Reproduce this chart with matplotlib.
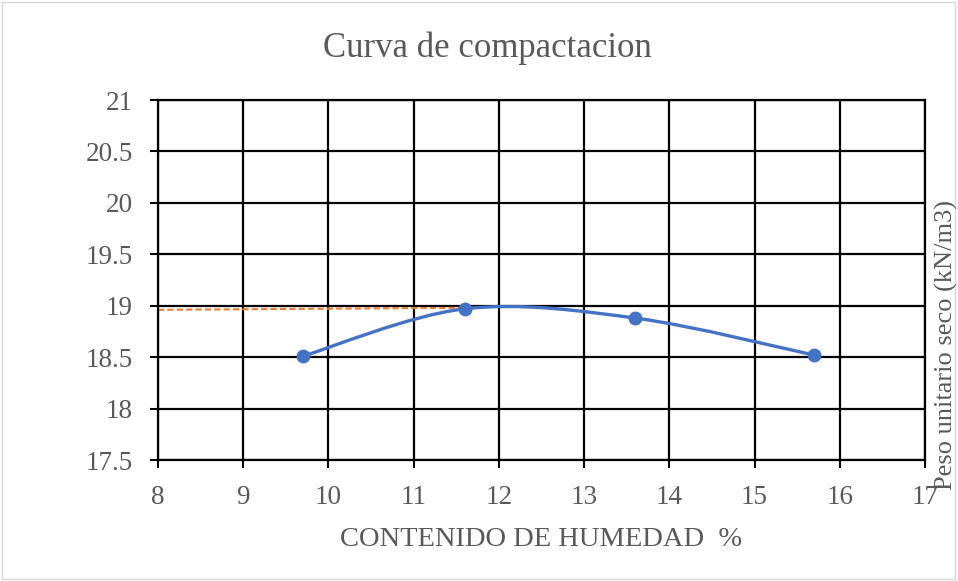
import numpy as np
import matplotlib.pyplot as plt
from matplotlib.path import Path
from matplotlib.patches import PathPatch, Rectangle

# Data
humedad = [9.7, 11.6, 13.6, 15.7]
peso_seco = [18.51, 18.97, 18.88, 18.52]
# orange dashed reference line (max dry unit weight)
ref_x = [8.0, 11.6]
ref_y = [18.96, 18.98]

xticks = [8, 9, 10, 11, 12, 13, 14, 15, 16, 17]
yticks = [17.5, 18, 18.5, 19, 19.5, 20, 20.5, 21]

plt.rcParams['font.family'] = ['Liberation Serif', 'DejaVu Serif']
gray = '#595959'
blue = '#4472C4'
orange = '#ED7D31'

fig = plt.figure(figsize=(9.58, 5.81), dpi=100)
ax = fig.add_axes([158 / 958, 1 - 460 / 581, (925 - 158) / 958, 360 / 581])

# Excel-style smoothed line: cubic bezier segments, control points at 1/6 of neighbours
pts = np.column_stack([humedad, peso_seco])
n = len(pts)
verts = [tuple(pts[0])]
codes = [Path.MOVETO]
for i in range(n - 1):
    p0 = pts[max(i - 1, 0)]
    p1 = pts[i]
    p2 = pts[i + 1]
    p3 = pts[min(i + 2, n - 1)]
    c1 = p1 + (p2 - p0) / 6
    c2 = p2 - (p3 - p1) / 6
    verts += [tuple(c1), tuple(c2), tuple(p2)]
    codes += [Path.CURVE4] * 3
ax.add_patch(PathPatch(Path(verts, codes), facecolor='none', edgecolor=blue,
                       lw=2.4, zorder=3))
ax.plot(humedad, peso_seco, 'o', color=blue, ms=9, zorder=4)
ax.plot(ref_x, ref_y, '--', color=orange, lw=1.5, dashes=(3, 1.5), zorder=2)

ax.set_xlim(8, 17)
ax.set_ylim(17.5, 21)
ax.set_xticks(xticks)
ax.set_yticks(yticks)
ax.set_xticklabels([str(v) for v in xticks])
ax.set_yticklabels([f'{v:g}' for v in yticks])
ax.grid(True, color='black', lw=1.6)
ax.set_axisbelow(True)
for s in ax.spines.values():
    s.set_color('black')
    s.set_linewidth(1.6)
ax.tick_params(axis='both', colors='black', labelcolor=gray, labelsize=19.5,
               length=6, width=1.5)
ax.tick_params(axis='y', pad=12)
ax.tick_params(axis='x', pad=12)

ax.set_xlabel('CONTENIDO DE HUMEDAD  %', color=gray, fontsize=20.5, labelpad=12)
fig.text(487 / 958, 1 - 48 / 581, 'Curva de compactacion', color=gray,
         fontsize=25, ha='center', va='center')
fig.text(946 / 958, 1 - 345 / 581, 'Peso unitario seco (kN/m3)', color=gray,
         fontsize=19, rotation=90, ha='center', va='center')

fig.add_artist(Rectangle((0.002, 0.003), 0.995, 0.994, transform=fig.transFigure,
                         fill=False, edgecolor='#d9d9d9', lw=1))

fig.savefig('out.png', dpi=100)
